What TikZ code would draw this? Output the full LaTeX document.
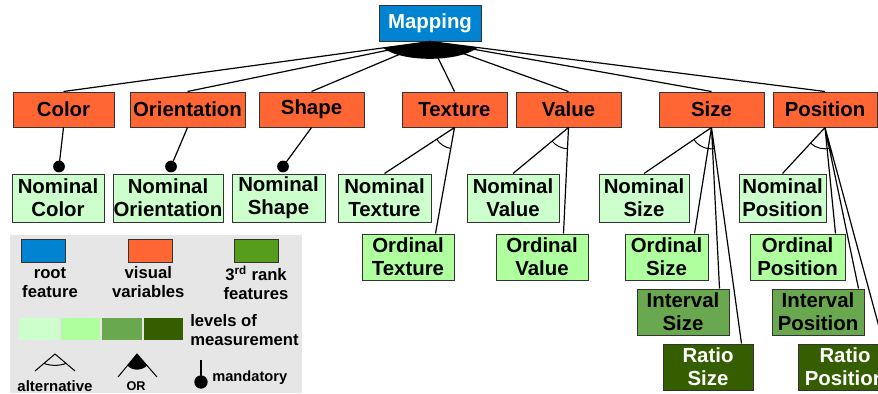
\documentclass[tikz,border=0pt]{standalone}
\usepackage{fontspec}
\setmainfont{Liberation Sans}
\usetikzlibrary{calc,angles}
\definecolor{rootblue}{HTML}{0084D1}
\definecolor{varorange}{HTML}{FF6633}
\definecolor{nomgreen}{HTML}{CCFFCC}
\definecolor{ordgreen}{HTML}{AFFF9F}
\definecolor{intgreen}{HTML}{6AA84F}
\definecolor{ratgreen}{HTML}{355E00}
\definecolor{rankgreen}{HTML}{579D1C}
\definecolor{legendgray}{HTML}{E6E6E6}
\definecolor{boxline}{HTML}{333333}
\tikzset{
  wh/.style 2 args={minimum width=#1*0.75pt, minimum height=#2*0.75pt},
  fbox/.style={draw=boxline, line width=0.75pt, inner sep=0pt, align=center,
    font=\fontsize{15.3}{17.4}\selectfont\bfseries},
  rootbox/.style={fbox, fill=rootblue, text=white},
  varbox/.style={fbox, fill=varorange, wh={#1}{35}},
  nombox/.style={fbox, fill=nomgreen},
  ordbox/.style={fbox, fill=ordgreen},
  intbox/.style={fbox, fill=intgreen},
  ratbox/.style={fbox, fill=ratgreen, text=white},
  link/.style={line width=0.9pt},
  altarc/.style={draw, line width=0.75pt, angle radius=16pt},
  legtext/.style={align=center, inner sep=0pt, font=\fontsize{12.5}{14.25}\selectfont\bfseries},
  legbox/.style={draw=boxline, line width=0.75pt, wh={44}{23}},
}
\begin{document}
\begin{tikzpicture}[x=0.75pt, y=-0.75pt]
\useasboundingbox (0,0) rectangle (878,393);
\clip (0,0) rectangle (878,393);

% root and visual variables
\node[rootbox, wh={102}{36}] (mapping) at (430,23) {Mapping};
\node[varbox=101] (color) at (63.5,109.5) {Color};
\node[varbox=115] (orient) at (187.5,109.5) {Orientation};
\node[varbox=105] (shape) at (311.5,109.5) {Shape};
\node[varbox=105] (texture) at (454.5,109.5) {Texture};
\node[varbox=105] (value) at (568.5,109.5) {Value};
\node[varbox=105] (size) at (711.5,109.5) {Size};
\node[varbox=104] (position) at (825,109.5) {Position};

% levels of measurement
\node[nombox, wh={92}{48}] (ncolor) at (58,198) {Nominal\\Color};
\node[nombox, wh={110}{48}] (norient) at (168,198) {Nominal\\Orientation};
\node[nombox, wh={93}{48}] (nshape) at (278.5,198) {Nominal\\Shape};
\node[nombox, wh={93}{48}] (ntexture) at (384.5,198) {Nominal\\Texture};
\node[ordbox, wh={92}{46}] (otexture) at (408,257) {Ordinal\\Texture};
\node[nombox, wh={92}{48}] (nvalue) at (513,198) {Nominal\\Value};
\node[ordbox, wh={92}{46}] (ovalue) at (542,257) {Ordinal\\Value};
\node[nombox, wh={90}{48}] (nsize) at (644,198) {Nominal\\Size};
\node[ordbox, wh={83}{46}] (osize) at (666.5,257) {Ordinal\\Size};
\node[intbox, wh={92}{46}] (isize) at (683,312) {Interval\\Size};
\node[ratbox, wh={90}{46}] (rsize) at (708,367) {Ratio\\Size};
\node[nombox, wh={87}{48}] (nposition) at (782.5,198) {Nominal\\Position};
\node[ordbox, wh={95}{46}] (oposition) at (797.5,257) {Ordinal\\Position};
\node[intbox, wh={92}{46}] (iposition) at (818,312) {Interval\\Position};
\node[ratbox, wh={94}{46}] (rposition) at (845,367) {Ratio\\Position};

% OR group from the root
\foreach \c in {color,orient,shape,texture,value,size,position}
  \draw[link] (mapping.south) -- (\c.north);
\fill (mapping.south) -- ($(mapping.south)!0.128!(color.north)$)
  .. controls ($(mapping.south)+(-28,21)$) and ($(mapping.south)+(28,21)$) ..
  ($(mapping.south)!0.1215!(position.north)$) -- cycle;

% mandatory children
\coordinate (dcolor) at ($(ncolor.north)+(1,-7)$);
\coordinate (dorient) at ($(norient.north)+(3,-7)$);
\coordinate (dshape) at ($(nshape.north)+(4.5,-7)$);
\draw[link] (color.south) -- (dcolor);
\draw[link] (orient.south) -- (dorient);
\draw[link] (shape.south) -- (dshape);
\fill (dcolor) circle[radius=4.4pt];
\fill (dorient) circle[radius=4.4pt];
\fill (dshape) circle[radius=4.4pt];

% alternative groups
\coordinate (texA) at (texture.south);
\coordinate (tex1) at (ntexture.north);
\coordinate (tex2) at ($(otexture.north west)+(74,0)$);
\draw[link] (texA) -- (tex1) (texA) -- (tex2);
\pic[altarc] {angle = tex1--texA--tex2};

\coordinate (valA) at (value.south);
\coordinate (val1) at (nvalue.north);
\coordinate (val2) at ($(ovalue.north west)+(68,0)$);
\draw[link] (valA) -- (val1) (valA) -- (val2);
\pic[altarc] {angle = val1--valA--val2};

\coordinate (sizA) at (size.south);
\coordinate (siz1) at (nsize.north);
\coordinate (siz2) at ($(osize.north west)+(70,0)$);
\coordinate (siz3) at ($(isize.north west)+(83,0)$);
\coordinate (siz4) at ($(rsize.north west)+(79,0)$);
\draw[link] (sizA) -- (siz1) (sizA) -- (siz2) (sizA) -- (siz3) (sizA) -- (siz4);
\pic[altarc] {angle = siz1--sizA--siz4};

\coordinate (posA) at (position.south);
\coordinate (pos1) at (nposition.north);
\coordinate (pos2) at ($(oposition.north west)+(86,0)$);
\coordinate (pos3) at ($(iposition.north west)+(87,0)$);
\coordinate (pos4) at ($(rposition.north west)+(86,0)$);
\draw[link] (posA) -- (pos1) (posA) -- (pos2) (posA) -- (pos3) (posA) -- (pos4);
\pic[altarc] {angle = pos1--posA--pos4};

% legend
\fill[legendgray] (10,235) rectangle (302,393);
\node[legbox, fill=rootblue] (lgroot) at (43.7,250.5) {};
\node[legbox, fill=varorange] (lgvar) at (150,250.5) {};
\node[legbox, fill=rankgreen] (lgrank) at (256.3,250.5) {};
\node[legtext] (ltroot) at (50,282.5) {root\\feature};
\node[legtext] (ltvar) at (148.3,282.5) {visual\\variables};
\node[legtext] (ltrank) at (256,282.5) {3\textsuperscript{rd} rank\\features};
\fill[nomgreen] (19,318) rectangle (59,340);
\fill[ordgreen] (61,318) rectangle (100,340);
\fill[intgreen] (102,318) rectangle (142,340);
\fill[ratgreen] (144,318) rectangle (183,340);
\node[legtext, anchor=west, align=left] (ltlev) at (190,330.5) {levels of\\measurement};

\coordinate (alA) at (55,354);
\coordinate (alL) at (35,371);
\coordinate (alR) at (75,371);
\draw[line width=0.75pt] (alL) -- (alA) -- (alR);
\draw[line width=0.75pt] ($(alA)!0.55!(alL)$) .. controls ($(alA)+(-5,12)$) and ($(alA)+(5,12)$) .. ($(alA)!0.55!(alR)$);
\node[font=\fontsize{11.25}{13}\selectfont\bfseries, inner sep=0pt] (ltalt) at (55,386) {alternative};

\coordinate (orA) at (137,354);
\coordinate (orL) at (118,377);
\coordinate (orR) at (157,377);
\draw[line width=0.75pt] (orL) -- (orA) -- (orR);
\fill (orA) -- ($(orA)!0.5!(orL)$) .. controls ($(orA)+(-5,17)$) and ($(orA)+(5,17)$) .. ($(orA)!0.5!(orR)$) -- cycle;
\node[font=\fontsize{9.5}{11}\selectfont\bfseries, inner sep=0pt] (ltor) at (136,386) {OR};

\coordinate (manT) at (201,360);
\coordinate (manD) at (201,382);
\draw[line width=0.9pt] (manT) -- (manD);
\fill (manD) circle[radius=5pt];
\node[font=\fontsize{11}{13}\selectfont\bfseries, inner sep=0pt, anchor=west] (ltman) at (212,378) {mandatory};
\end{tikzpicture}
\end{document}
